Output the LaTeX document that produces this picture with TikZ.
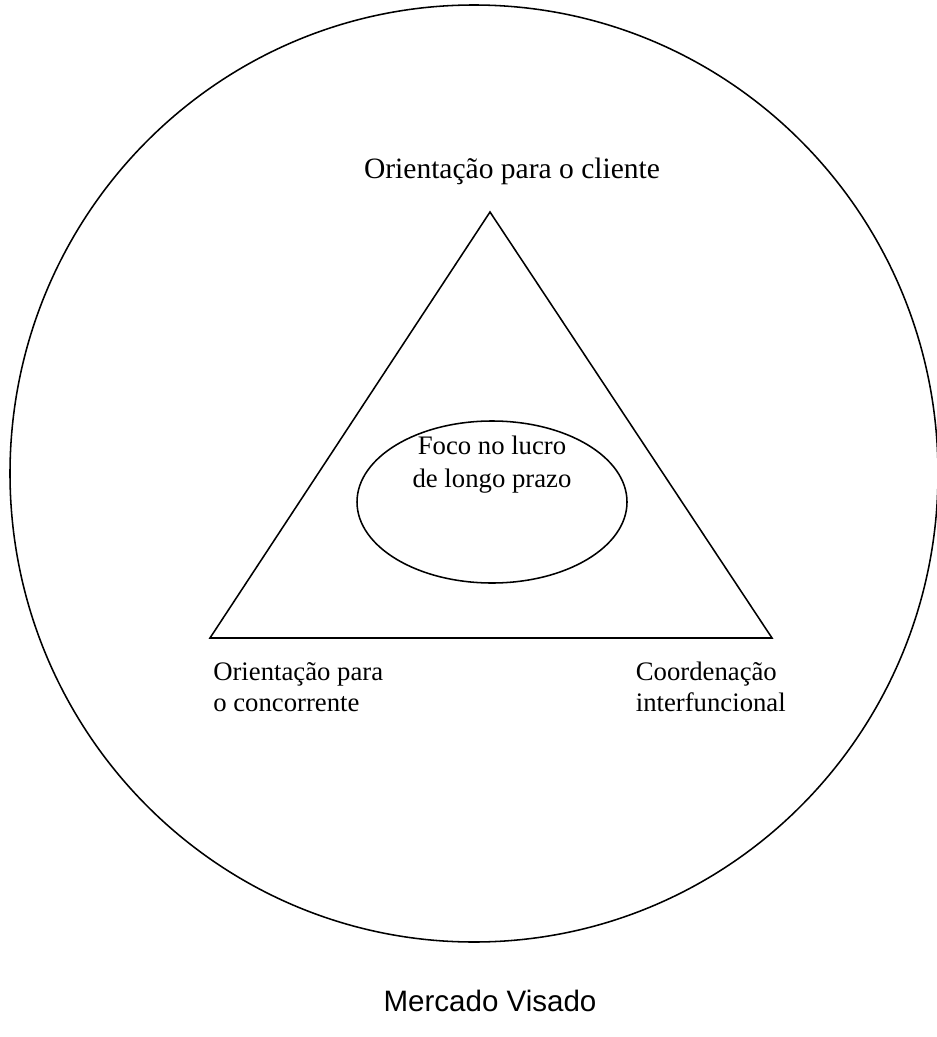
\documentclass[tikz,border=0pt]{standalone}
\usepackage{fontspec}
\setmainfont{Liberation Serif}
\setsansfont{Liberation Sans}
\usetikzlibrary{shapes.geometric}
\tikzset{
    label/.style = {
        inner sep = 0pt,
        font      = \fontsize{19}{22.5}\selectfont,
    },
    outline/.style = {
        draw      = black,
        line width = 1.1pt,
    }
}

\begin{document}
\begin{tikzpicture}[x=0.025cm,y=-0.025cm]
  \useasboundingbox (0,0) rectangle (937,1037);

  % Mercado
  \node[outline,ellipse,minimum width=928*0.025cm,minimum height=937*0.025cm] (Mercado) at (474,473.5) {};
  \node[inner sep=0pt,font=\sffamily\fontsize{21}{24}\selectfont] (MercadoText) at (490,1001) {Mercado Visado};

  % Triangle
  \coordinate (Cliente) at (490,212);
  \coordinate (Concorrente) at (210,638);
  \coordinate (Coordenacao) at (772,638);
  \draw[outline,line join=miter] (Cliente) -- (Concorrente) -- (Coordenacao) -- cycle;

  \node[label,font=\fontsize{21}{24}\selectfont] (ClienteText) at (512,171) {Orientação para o cliente};
  \node[label,align=left,anchor=west] (ConcorrenteText) at (213,687) {Orientação para\\o concorrente};
  \node[label,align=left,anchor=east] (CoordenacaoText) at (786,687) {Coordenação\\interfuncional};

  % Lucro
  \node[outline,ellipse,minimum width=270*0.025cm,minimum height=162*0.025cm] (Lucro) at (492,502) {};
  \node[label,align=center,font=\fontsize{19}{23.5}\selectfont] (LucroText) at (492,465) {Foco no lucro\\de longo prazo};

\end{tikzpicture}
\end{document}
